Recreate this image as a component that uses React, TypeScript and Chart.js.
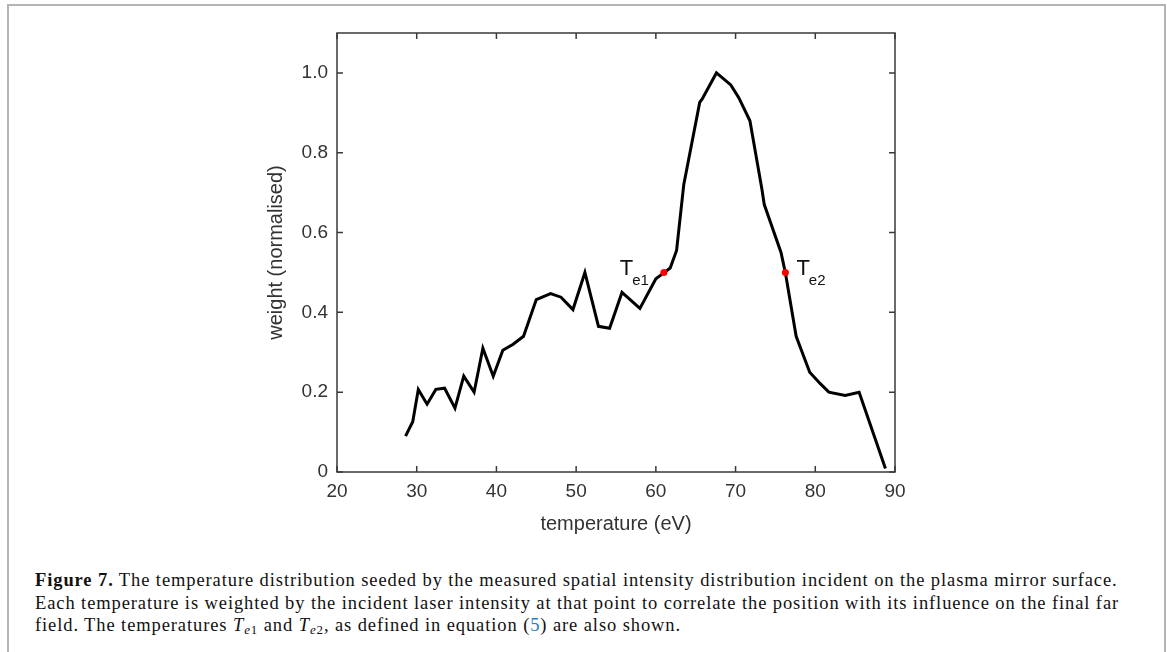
import React, { useEffect, useRef } from "react";
import { Chart, registerables } from "chart.js";

Chart.register(...registerables);

const temperatures = [28.6, 29.5, 30.2, 31.3, 32.4, 33.5, 34.8, 35.9, 37.2, 38.3, 39.6, 40.8, 42.1, 43.4, 45.0, 46.8, 48.1, 49.6, 51.1, 52.8, 54.2, 55.75, 58.0, 60.0, 61.0, 61.8, 62.6, 63.5, 65.5, 65.8, 67.6, 69.4, 70.4, 71.8, 73.3, 73.6, 75.7, 76.25, 77.6, 79.3, 80.6, 81.7, 83.75, 85.5, 88.8];
const weights = [0.09, 0.126, 0.207, 0.17, 0.207, 0.21, 0.16, 0.24, 0.2, 0.31, 0.24, 0.305, 0.32, 0.34, 0.432, 0.447, 0.438, 0.407, 0.5, 0.365, 0.36, 0.45, 0.41, 0.484, 0.499, 0.511, 0.555, 0.72, 0.926, 0.934, 1.0, 0.97, 0.938, 0.88, 0.709, 0.67, 0.55, 0.499, 0.34, 0.25, 0.222, 0.2, 0.192, 0.2, 0.009];

const markerTemps = [61.0, 76.25];
const markerWeights = [0.5, 0.5];
const markerSubs = ["e1", "e2"];
const markerSide = [-1, 1];

const xTicks = [20, 30, 40, 50, 60, 70, 80, 90];
const yTicks = [0, 0.2, 0.4, 0.6, 0.8, 1.0];

const xTitle = "temperature (eV)";
const yTitle = "weight (normalised)";

const AXIS_COLOR = "#3a3a3a";
const TEXT_COLOR = "#333333";

const framePlugin = {
  id: "matlabFrame",
  afterDatasetsDraw(chart: any) {
    const { ctx, chartArea, scales } = chart;
    const { left, right, top, bottom } = chartArea;
    ctx.save();
    ctx.strokeStyle = AXIS_COLOR;
    ctx.lineWidth = 1.5;
    ctx.strokeRect(left, top, right - left, bottom - top);
    const tl = 6;
    ctx.beginPath();
    xTicks.forEach((v) => {
      const px = scales.x.getPixelForValue(v);
      ctx.moveTo(px, bottom);
      ctx.lineTo(px, bottom - tl);
      ctx.moveTo(px, top);
      ctx.lineTo(px, top + tl);
    });
    yTicks.forEach((v) => {
      const py = scales.y.getPixelForValue(v);
      ctx.moveTo(left, py);
      ctx.lineTo(left + tl, py);
      ctx.moveTo(right, py);
      ctx.lineTo(right - tl, py);
    });
    ctx.stroke();

    // T_e labels
    ctx.fillStyle = "#111";
    ctx.textBaseline = "alphabetic";
    ctx.textAlign = "left";
    markerTemps.forEach((t, i) => {
      const px = scales.x.getPixelForValue(t);
      const py = scales.y.getPixelForValue(markerWeights[i]);
      ctx.font = "22px 'Liberation Sans', Arial, sans-serif";
      const tw = ctx.measureText("T").width;
      const x0 = markerSide[i] < 0 ? px - 44 : px + 11;
      ctx.fillText("T", x0, py + 3);
      ctx.font = "15px 'Liberation Sans', Arial, sans-serif";
      ctx.fillText(markerSubs[i], x0 + tw - 1, py + 13);
    });
    ctx.restore();
  },
};

function PlotChart() {
  const ref = useRef<HTMLCanvasElement>(null);
  useEffect(() => {
    if (!ref.current) return;
    const chart = new Chart(ref.current, {
      type: "line",
      data: {
        datasets: [
          {
            data: temperatures.map((t, i) => ({ x: t, y: weights[i] })),
            borderColor: "#000000",
            borderWidth: 3,
            pointRadius: 0,
            tension: 0,
            fill: false,
            order: 2,
          },
          {
            type: "scatter",
            data: markerTemps.map((t, i) => ({ x: t, y: markerWeights[i] })),
            backgroundColor: "#ff0000",
            borderColor: "#ff0000",
            pointRadius: 3.5,
            borderWidth: 0,
            order: 1,
          } as any,
        ],
      },
      options: {
        animation: false,
        responsive: false,
        maintainAspectRatio: false,
        layout: { padding: { left: 230, right: 272, top: 33, bottom: 0 } },
        plugins: { legend: { display: false }, tooltip: { enabled: false } },
        scales: {
          x: {
            type: "linear",
            min: 20,
            max: 90,
            afterBuildTicks: (s: any) => {
              s.ticks = xTicks.map((v) => ({ value: v }));
            },
            ticks: {
              color: TEXT_COLOR,
              font: { family: "'Liberation Sans', Arial, sans-serif", size: 19 },
              padding: 8,
              maxRotation: 0,
              autoSkip: false,
            },
            grid: { display: false, drawTicks: false },
            border: { display: false },
            title: {
              display: true,
              text: xTitle,
              color: TEXT_COLOR,
              font: { family: "'Liberation Sans', Arial, sans-serif", size: 20 },
              padding: { top: 0, bottom: 14 },
            },
            afterFit: (s: any) => {
              s.height = 78;
            },
          },
          y: {
            type: "linear",
            min: 0,
            max: 1.1,
            afterBuildTicks: (s: any) => {
              s.ticks = yTicks.map((v) => ({ value: v }));
            },
            ticks: {
              color: TEXT_COLOR,
              font: { family: "'Liberation Sans', Arial, sans-serif", size: 19 },
              padding: 9,
              callback: (v: any) => (Number(v) === 0 ? "0" : Number(v).toFixed(1)),
              autoSkip: false,
            },
            grid: { display: false, drawTicks: false },
            border: { display: false },
            title: {
              display: true,
              text: yTitle,
              color: TEXT_COLOR,
              font: { family: "'Liberation Sans', Arial, sans-serif", size: 20 },
              padding: { top: 34, bottom: 0 },
            },
            afterFit: (s: any) => {
              s.width = 107;
            },
          },
        },
      },
      plugins: [framePlugin],
    } as any);
    return () => chart.destroy();
  }, []);
  return (
    <canvas
      ref={ref}
      width={1167}
      height={550}
      style={{ position: "absolute", left: 0, top: 0, width: 1167, height: 550 }}
    />
  );
}

const captionStyle: React.CSSProperties = {
  position: "absolute",
  left: 35,
  top: 569,
  fontFamily: "'Liberation Serif', 'Times New Roman', serif",
  fontSize: 18.5,
  lineHeight: "22.5px",
  color: "#111",
  whiteSpace: "nowrap",
  letterSpacing: "0.9px",
};

export default function App() {
  return (
    <div
      style={{
        position: "fixed",
        left: 0,
        top: 0,
        width: 1167,
        height: 652,
        overflow: "hidden",
        background: "#fff",
      }}
    >
      <div
        style={{
          position: "absolute",
          left: 7,
          top: 4,
          width: 1155,
          height: 660,
          border: "2px solid #b4b4b4",
        }}
      />
      <PlotChart />
      <div style={captionStyle}>
        <div>
          <b>Figure 7.</b> The temperature distribution seeded by the measured spatial intensity distribution incident on the plasma mirror surface.
        </div>
        <div>
          Each temperature is weighted by the incident laser intensity at that point to correlate the position with its influence on the final far
        </div>
        <div>
          field. The temperatures <i>T</i>
          <sub style={{ fontSize: "0.7em", verticalAlign: "-0.25em" }}>
            <i>e</i>1
          </sub>{" "}
          and <i>T</i>
          <sub style={{ fontSize: "0.7em", verticalAlign: "-0.25em" }}>
            <i>e</i>2
          </sub>
          , as defined in equation (<span style={{ color: "#2b7bbf" }}>5</span>) are also shown.
        </div>
      </div>
    </div>
  );
}
